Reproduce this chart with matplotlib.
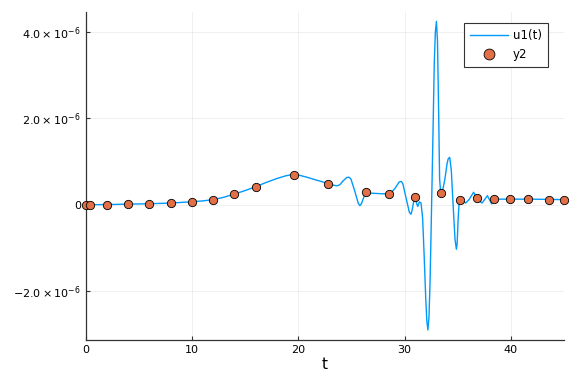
import numpy as np
import matplotlib.pyplot as plt
from matplotlib.ticker import FixedLocator, FixedFormatter

plt.rcParams['font.family'] = ['DejaVu Sans']
plt.rcParams['mathtext.fontset'] = 'dejavusans'

# solution curve u1(t), values in units of 1e-6
t_line = [0, 1, 2, 3, 4, 5, 6, 7, 8, 9, 10, 11, 12, 13, 14, 15, 16, 17, 18, 18.8,
          19.4, 20.0, 20.8, 21.6, 22.3, 22.8, 23.2, 23.6, 23.9, 24.2, 24.55, 24.75,
          24.95, 25.3, 25.65, 25.8, 25.95, 26.2, 26.4, 26.8, 27.5, 28.4, 28.7, 29.1,
          29.5, 29.7, 29.85, 30.15, 30.45, 30.6, 30.7, 30.9, 31.0, 31.15, 31.25,
          31.4, 31.55, 31.7, 31.85, 32.0, 32.1, 32.2, 32.3, 32.4, 32.5, 32.65,
          32.8, 32.9, 33.0, 33.1, 33.2, 33.3, 33.4, 33.6, 33.8, 34.0, 34.1, 34.25,
          34.4, 34.55, 34.75, 34.88, 34.95, 35.05, 35.15, 35.4, 35.75, 36.1, 36.5,
          36.9, 37.3, 37.8, 38.2, 38.45, 39, 40, 42, 45]
u_line = [0, 0.003, 0.006, 0.01, 0.016, 0.02, 0.025, 0.032, 0.04, 0.055, 0.07,
          0.09, 0.12, 0.175, 0.25, 0.33, 0.42, 0.52, 0.61, 0.67,
          0.70, 0.69, 0.64, 0.58, 0.53, 0.49, 0.46, 0.44, 0.46, 0.55, 0.63, 0.64,
          0.60, 0.33, 0.03, -0.02, 0.03, 0.2, 0.28, 0.27, 0.26, 0.25, 0.27, 0.38,
          0.53, 0.54, 0.48, 0.15, -0.17, -0.22, -0.14, 0.12, 0.19, 0.02, -0.04,
          0.07, 0.04, -0.3, -1.2, -2.2, -2.7, -2.9, -2.6, -1.8, -0.6, 1.3,
          3.3, 4.0, 4.25, 3.8, 2.3, 0.6, 0.28, 0.35, 0.6, 0.95, 1.06, 1.10,
          0.8, 0.1, -0.8, -1.03, -0.9, -0.3, 0.1, 0.12, 0.04, 0.13, 0.29,
          0.12, 0.04, 0.21, 0.02, 0.12, 0.13, 0.13, 0.13, 0.12]

# observations y2
t_obs = [0.06, 0.38, 1.95, 4.0, 5.97, 8.0, 10.0, 12.0, 13.96, 16.0, 19.56, 22.8,
         26.4, 28.5, 31.0, 33.4, 35.2, 36.8, 38.4, 39.9, 41.6, 43.6, 45.0]
y_obs = [0.0, 0.0, 0.0, 0.016, 0.023, 0.039, 0.07, 0.12, 0.25, 0.42, 0.68, 0.49,
         0.285, 0.25, 0.19, 0.27, 0.10, 0.155, 0.13, 0.13, 0.13, 0.12, 0.12]

y_ticks = [-2e-6, 0, 2e-6, 4e-6]
y_tick_labels = [r'$-2.0\times10^{-6}$', '0', r'$2.0\times10^{-6}$', r'$4.0\times10^{-6}$']

fig = plt.figure(figsize=(5.76, 3.84), dpi=100)
ax = fig.add_axes([0.149, 0.115, 0.830, 0.854])

ax.plot(t_line, np.array(u_line) * 1e-6, color='#009AFA', lw=1, label='u1(t)', zorder=2)
ax.scatter(t_obs, np.array(y_obs) * 1e-6, s=36, color='#E26F46', edgecolors='black',
           linewidths=0.6, label='y2', zorder=3, clip_on=False)

ax.set_xlim(0, 45)
ax.set_ylim(-3.13e-6, 4.47e-6)
ax.set_xticks([0, 10, 20, 30, 40])
ax.yaxis.set_major_locator(FixedLocator(y_ticks))
ax.yaxis.set_major_formatter(FixedFormatter(y_tick_labels))
ax.set_xlabel('t', fontsize=11, labelpad=2)

ax.grid(True, color='black', alpha=0.07, lw=0.6)
for s in ['top', 'right']:
    ax.spines[s].set_visible(False)
for s in ['left', 'bottom']:
    ax.spines[s].set_color('#333333')
    ax.spines[s].set_linewidth(0.9)
ax.tick_params(direction='in', length=3, width=0.8, labelsize=8, colors='#333333',
               labelcolor='black')

leg = ax.legend(loc='upper right', fontsize=8.5, fancybox=False, framealpha=1,
                edgecolor='#333333', borderpad=0.55, handlelength=3.2,
                markerscale=1.3, labelspacing=0.45, handletextpad=0.4,
                bbox_to_anchor=(0.98, 0.985))
leg.get_frame().set_linewidth(0.8)

fig.savefig('out.png', dpi=100)
